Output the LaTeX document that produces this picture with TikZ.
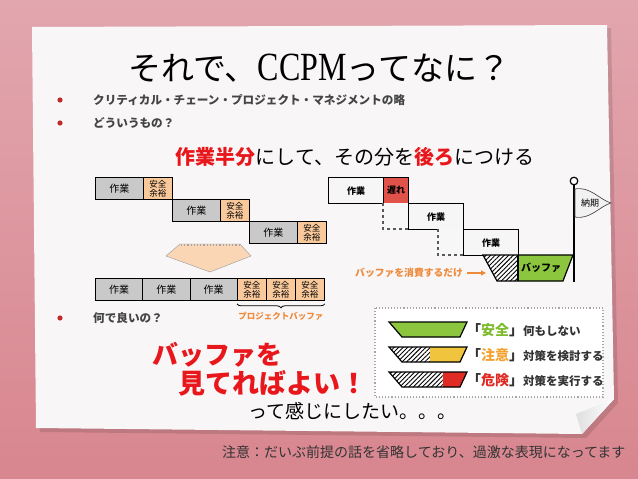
\documentclass[tikz,border=0pt]{standalone}
\usepackage{fontspec}
\setmainfont{Noto Sans CJK JP}
\newfontfamily\latinserif{Liberation Serif}
\usetikzlibrary{patterns.meta,decorations.pathreplacing,arrows.meta}

\definecolor{pinktop}{HTML}{E2A6AE}
\definecolor{pinkbot}{HTML}{D8868F}
\definecolor{paper}{HTML}{F8F6F6}
\definecolor{boxgray}{HTML}{C9C9C9}
\definecolor{peach}{HTML}{F9C99C}
\definecolor{latered}{HTML}{E0524A}
\definecolor{bufgreen}{HTML}{8CC63E}
\definecolor{warnyellow}{HTML}{F0C43C}
\definecolor{dangerred}{HTML}{E02A24}
\definecolor{warntext}{HTML}{F5A12E}
\definecolor{oktext}{HTML}{7DBB2E}
\definecolor{orangetext}{HTML}{EE8A3C}
\definecolor{bulletgray}{HTML}{444444}
\definecolor{bulletred}{HTML}{C02A2A}
\definecolor{accentred}{HTML}{E8171C}
\definecolor{notegray}{HTML}{333333}

\begin{document}
\begin{tikzpicture}[x=1pt,y=-1pt,
    work/.style={draw=black,line width=0.8pt,fill=boxgray,minimum width=48pt,minimum height=22pt,
      inner sep=0pt,anchor=north west,font=\fontsize{10}{10}\selectfont},
    spare/.style={draw=black,line width=0.8pt,fill=peach,minimum width=29pt,minimum height=22pt,
      inner sep=0pt,anchor=north west,align=center,font=\fontsize{8.5}{9}\selectfont},
    task/.style={draw=black,line width=1.2pt,fill=gray!7,minimum width=55pt,minimum height=26pt,
      inner sep=0pt,anchor=north west,font=\bfseries\fontsize{9}{9}\selectfont},
    bullettext/.style={anchor=west,inner sep=0pt,text=bulletgray,font=\bfseries\fontsize{11.6}{12}\selectfont},
    hatch/.style={pattern={Lines[angle=45,distance=3.2pt,line width=0.9pt]}},
    funnel/.style={draw=black,line width=1.2pt},
    legendtext/.style={anchor=west,inner sep=0pt,text=notegray,font=\bfseries\fontsize{11.5}{12}\selectfont}]
\useasboundingbox (0,0) rectangle (638,479);

% background and the sheet of paper
\shade[top color=pinktop,bottom color=pinkbot] (0,0) rectangle (638,479);
\fill[black,opacity=0.12] (35,30) -- (611,28) -- (618,403) -- (586,438) -- (40,432) -- cycle;
\fill[paper] (32,27) -- (607,25) -- (614,399) -- (582,434) -- (36,428) -- cycle;
\shade[left color=gray!25,right color=white] (614,399) -- (576,414) -- (582,434) -- cycle;

% title and bullets
\node (title) at (319,68) {\fontsize{33}{33}\selectfont それで、\scalebox{0.8}[1]{\latinserif\fontsize{40}{40}\selectfont CCPM}ってなに？};
\foreach \y in {100,123,318} {
    \fill[bulletred] (60,\y) circle (2.6);
}
\node[bullettext] (b1) at (93,100) {クリティカル・チェーン・プロジェクト・マネジメントの略};
\node[bullettext] (b2) at (93,123) {どういうもの？};
\node[bullettext] (b3) at (93,318) {何で良いの？};

\node (halve) at (355,157) {\fontsize{20}{20}\selectfont{\color{accentred}\bfseries 作業半分}にして、その分を{\color{accentred}\bfseries 後ろ}につける};

% staircase of tasks, each with its own margin
\foreach \i in {0,1,2} {
    \node[work] (w\i) at (95+77*\i,177+22*\i) {作業};
    \node[spare] (s\i) at (143+77*\i,177+22*\i) {安全\\余裕};
}
\fill[peach!75,draw=gray!80] (180,244) -- (240,244) -- (251,256) -- (210,272) -- (166,256) -- cycle;
\draw[gray!70,dotted,line width=1.2pt] (181,245) -- (239,245);

% margins moved to the end
\foreach \i in {0,1,2} {
    \node[work,minimum width=47.3pt] (pw\i) at (95+47.3*\i,278) {作業};
    \node[spare] (ps\i) at (237+29*\i,278) {安全\\余裕};
}
\draw[decorate,decoration={brace,mirror,amplitude=4pt},line width=0.8pt]
    ([yshift=-3pt]ps0.south west) -- ([yshift=-3pt]ps2.south east)
    node[midway,below=8pt,inner sep=0pt,text=orangetext,font=\bfseries\fontsize{8.5}{9}\selectfont] (pbuf) {プロジェクトバッファ};

% late task eats the buffer
\node[task] (t0) at (328,177) {作業};
\node[draw=black,line width=1.2pt,fill=latered,minimum width=25pt,minimum height=26pt,inner sep=0pt,
    anchor=north west,font=\bfseries\fontsize{9}{9}\selectfont] (late) at (383,177) {遅れ};
\fill[gray!6] (383,203) rectangle (408,229);
\draw[gray!70!black,dashed,line width=1.2pt] (383,203) -- (383,229) -- (408,229);
\node[task] (t1) at (408,203) {作業};
\fill[gray!6] (438,229) rectangle (463,255);
\draw[gray!70!black,dashed,line width=1.2pt] (438,229) -- (438,255) -- (463,255);
\node[task] (t2) at (463,229) {作業};

\fill[white] (483,255) -- (518,255) -- (518,281) -- (497,281) -- cycle;
\fill[hatch] (483,255) -- (518,255) -- (518,281) -- (497,281) -- cycle;
\fill[bufgreen] (518,255) -- (573,255) -- (563,281) -- (518,281) -- cycle;
\draw[funnel] (483,255) -- (573,255) -- (563,281) -- (497,281) -- cycle;
\draw[funnel] (518,255) -- (518,281);
\node[font=\bfseries\itshape\fontsize{10}{10}\selectfont] (buf) at (541,268) {バッファ};

% deadline flag
\draw[line width=1.3pt] (574,185) -- (574,282);
\draw[fill=white,line width=1.2pt] (574,181) circle (3.8);
\draw[fill=gray!10,draw=gray!60!black,line width=0.7pt] (575,189) .. controls (590,186) and (600,200) .. (611,203)
    .. controls (600,206) and (590,220) .. (575,217) -- cycle;
\node[font=\fontsize{9}{9}\selectfont] (due) at (590,203) {納期};

\node[anchor=west,inner sep=0pt,text=orangetext,font=\bfseries\fontsize{9.8}{10}\selectfont] (eat) at (355,273) {バッファを消費するだけ};
\coordinate (hatchin) at (486,273);
\draw[orangetext,line width=1.4pt,-{Triangle[length=5pt,width=5pt]}] ([xshift=4pt]eat.east) -- (hatchin);

% so what
\node[anchor=west,inner sep=0pt,text=accentred,font=\bfseries\fontsize{26}{26}\selectfont] (look1) at (152,355) {バッファを};
\node[anchor=west,inner sep=0pt,text=accentred,font=\bfseries\fontsize{27}{27}\selectfont] (look2) at (178,383) {見てればよい！};
\node[anchor=west,inner sep=0pt,font=\fontsize{19}{19}\selectfont] (feel) at (248,411) {って感じにしたい。。。};

% legend of buffer states
\draw[gray!70,dotted,line width=1.1pt,fill=white] (375,308) rectangle (603,397);
\fill[bufgreen] (389,322) -- (467,322) -- (460,337) -- (402,337) -- cycle;
\draw[funnel] (389,322) -- (467,322) -- (460,337) -- (402,337) -- cycle;
\foreach \y/\split/\col in {347/430/warnyellow,372/443/dangerred} {
    \fill[hatch] (389,\y) -- (467,\y) -- (460,\y+15) -- (402,\y+15) -- cycle;
    \fill[\col] (\split,\y) -- (467,\y) -- (460,\y+15) -- (\split,\y+15) -- cycle;
    \draw[funnel] (389,\y) -- (467,\y) -- (460,\y+15) -- (402,\y+15) -- cycle;
}
\node[legendtext] (safe) at (467,330) {{\fontsize{14}{14}\selectfont 「\textcolor{oktext}{安全}」}何もしない};
\node[legendtext] (warn) at (467,355) {{\fontsize{14}{14}\selectfont 「\textcolor{warntext}{注意}」}対策を検討する};
\node[legendtext] (danger) at (467,380) {{\fontsize{14}{14}\selectfont 「\textcolor{dangerred}{危険}」}対策を実行する};

\node[anchor=west,inner sep=0pt,text=notegray,font=\fontsize{14}{14}\selectfont] (note) at (222,452) {注意：だいぶ前提の話を省略しており、過激な表現になってます};
\end{tikzpicture}
\end{document}
